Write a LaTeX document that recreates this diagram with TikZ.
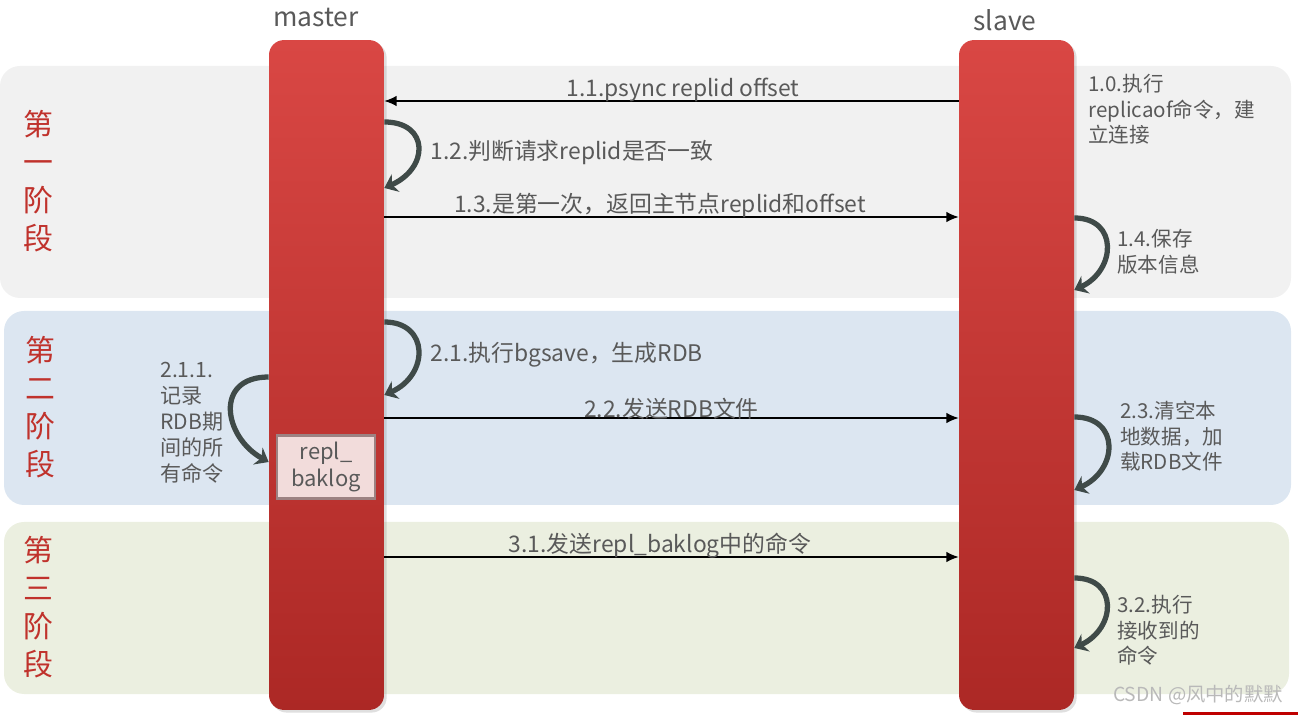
\documentclass[tikz,border=0pt]{standalone}
\usepackage{fontspec}
\setmainfont{Noto Sans CJK SC}
\usetikzlibrary{arrows.meta,shadows}
\definecolor{barTop}{HTML}{D94744}
\definecolor{barBot}{HTML}{AC2825}
\definecolor{txt}{HTML}{595959}
\definecolor{stageRed}{HTML}{C0322C}
\definecolor{curlc}{HTML}{3F4A48}
\definecolor{bandA}{HTML}{F1F1F1}
\definecolor{bandB}{HTML}{DCE6F1}
\definecolor{bandC}{HTML}{EBEFE0}
\definecolor{logFill}{HTML}{F2DCDB}
\definecolor{logEdge}{HTML}{9C8282}
\tikzset{
  lifeline/.style={rounded corners=0.3cm, top color=barTop, bottom color=barBot,
    minimum width=2.3cm, minimum height=13.4cm, inner sep=0pt,
    drop shadow={opacity=0.25,shadow xshift=1.5pt,shadow yshift=-1.5pt}},
  msg/.style={-{Latex[length=7pt,width=6pt]}, line width=0.8pt},
  curl/.style={-{Stealth[length=7pt,width=11pt]}, line width=3pt, draw=curlc},
  note/.style={text=txt, font=\fontsize{11.7}{14.5}\selectfont, align=left, anchor=north west, inner sep=0pt},
  msglabel/.style={text=txt, font=\fontsize{13}{15}\selectfont, inner sep=0pt, above=-1pt},
  stage/.style={text=stageRed, font=\fontsize{17}{21.5}\selectfont, align=center, inner sep=0pt},
  head/.style={text=txt, font=\fontsize{15}{18}\selectfont}
}
\begin{document}
\begin{tikzpicture}[x=0.02cm,y=-0.02cm]
   \useasboundingbox (0,0) rectangle (1298,715);
   \fill[bandA, rounded corners=0.4cm] (0,66) rectangle (1291,298);
   \fill[bandB, rounded corners=0.4cm] (4,311) rectangle (1291,505);
   \fill[bandC, rounded corners=0.4cm] (4,522) rectangle (1289,694);
   \node[stage] (st1) at (38,181) {第\\一\\阶\\段};
   \node[stage] (st2) at (40,407) {第\\二\\阶\\段};
   \node[stage] (st3) at (38,607) {第\\三\\阶\\段};
   \node[head] (hm) at (316,18) {master};
   \node[head] (hs) at (1005,20) {slave};
   \node[lifeline] (master) at (326.5,375) {};
   \node[lifeline] (slave) at (1016.5,375) {};
   \node[fill=logFill, draw=logEdge, line width=1.2pt, minimum width=1.96cm, minimum height=1.26cm,
     align=center, text=txt, font=\fontsize{12.5}{15}\selectfont, inner sep=0pt] (log) at (326,467) {repl\_\\baklog};
   \draw[msg] (slave.west |- 0,101) -- (master.east |- 0,101) node[msglabel, pos=0.48] {1.1.psync replid offset};
   \draw[msg] (master.east |- 0,217) -- (slave.west |- 0,217) node[msglabel, pos=0.48] {1.3.是第一次，返回主节点replid和offset};
   \draw[msg] (master.east |- 0,418) -- (slave.west |- 0,418) node[msglabel, midway] {2.2.发送RDB文件};
   \draw[msg] (master.east |- 0,557) -- (slave.west |- 0,557) node[msglabel, pos=0.48] {3.1.发送repl\_baklog中的命令};
   \draw[curl] (master.east |- 0,122) .. controls +(45,0) and +(45,-20) .. (master.east |- 0,188);
   \draw[curl] (master.east |- 0,322) .. controls +(45,0) and +(45,-20) .. (master.east |- 0,395);
   \draw[curl] (master.west |- 0,377) .. controls +(-55,0) and +(-45,-25) .. (master.west |- 0,462);
   \draw[curl] (slave.east |- 0,218) .. controls +(44,0) and +(42,-20) .. (slave.east |- 0,290);
   \draw[curl] (slave.east |- 0,417) .. controls +(46,0) and +(44,-20) .. (slave.east |- 0,490);
   \draw[curl] (slave.east |- 0,578) .. controls +(44,0) and +(42,-20) .. (slave.east |- 0,648);
   \node[note] (n10) at (1088,74) {1.0.执行\\replicaof命令，建\\立连接};
   \node[note, anchor=west, font=\fontsize{13}{15}\selectfont] (n12) at (430,153) {1.2.判断请求replid是否一致};
   \node[note] (n14) at (1117,229) {1.4.保存\\版本信息};
   \node[note, anchor=west, font=\fontsize{13}{15}\selectfont] (n21) at (430,355) {2.1.执行bgsave，生成RDB};
   \node[note, font=\fontsize{12}{14.8}\selectfont] (n211) at (160,362) {2.1.1.\\记录\\RDB期\\间的所\\有命令};
   \node[note] (n23) at (1120,401) {2.3.清空本\\地数据，加\\载RDB文件};
   \node[note] (n32) at (1117,595) {3.2.执行\\接收到的\\命令};
   \node[text=gray!55, font=\fontsize{11}{13}\selectfont] (mark) at (1198,695) {CSDN @风中的默默};
   \fill[red!75!black] (1183,712) rectangle (1298,715);
\end{tikzpicture}
\end{document}
